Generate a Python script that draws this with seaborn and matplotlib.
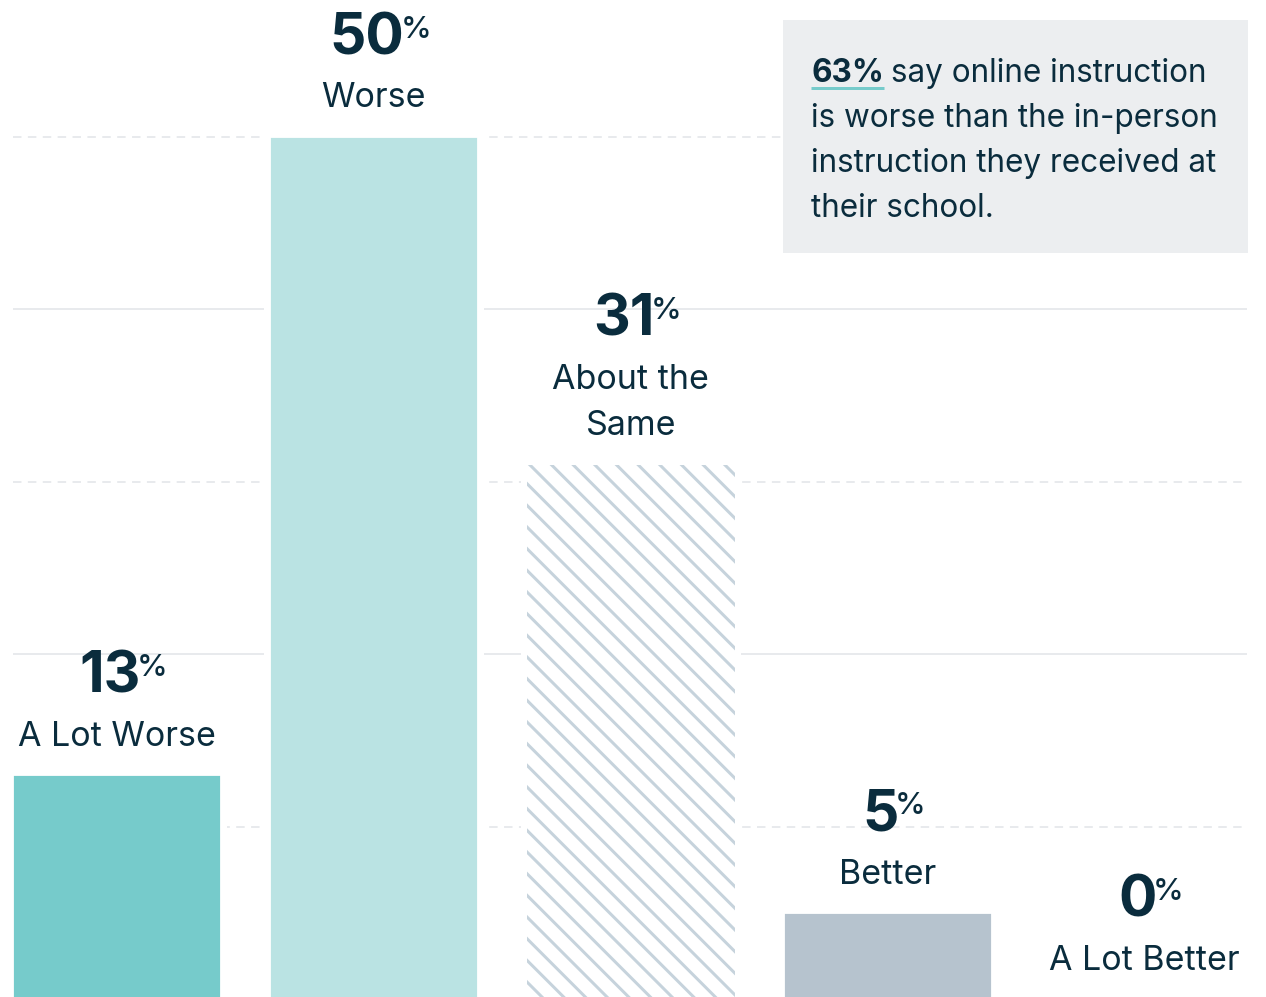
import matplotlib
matplotlib.use("Agg")
import matplotlib.pyplot as plt
import seaborn as sns
import pandas as pd
from matplotlib.patches import Rectangle
from matplotlib.lines import Line2D

# ---- data -------------------------------------------------------------
categories = ["A Lot Worse", "Worse", "About the\nSame", "Better", "A Lot Better"]
values = [13, 50, 31, 5, 0]
bar_colors = ["#76CBCB", "#BAE3E3", "#FFFFFF", "#B6C3CE", "#B6C3CE"]
grid_levels = [10, 20, 30, 40, 50]
grid_styles = ["dashed", "solid", "dashed", "solid", "dashed"]
callout_lead = "63%"
callout_rest = "say online instruction"
callout_lines = ["is worse than the in-person", "instruction they received at", "their school."]

# ---- styling ----------------------------------------------------------
W, H, DPI = 1266, 997, 130
INK = "#0A2C3D"
TEAL = "#76CBCB"
HATCH = "#C6D3DC"
GRID = "#E3E6E9"


def pt(px):
    """Convert pixels to points at the figure dpi."""
    return px * 72 / DPI


sns.set_theme(style="white")
plt.rcParams["font.family"] = ["Inter", "DejaVu Sans"]
plt.rcParams["hatch.linewidth"] = pt(3)
plt.rcParams["hatch.color"] = HATCH

fig = plt.figure(figsize=((W + 0.4) / DPI, (H + 0.4) / DPI), dpi=DPI)
fig.patch.set_facecolor("white")
ax = fig.add_axes([13 / W, 0, (1247 - 13) / W, 1])

df = pd.DataFrame({"category": categories, "value": values})
sns.barplot(data=df, x="category", y="value", hue="category",
            palette=bar_colors, width=0.81, saturation=1, legend=False,
            ax=ax, zorder=3)
bars = list(ax.patches)

# the "About the Same" bar is drawn as diagonal hatching only
mid = bars[2]
mid.set_facecolor("white")
mid.set_edgecolor(HATCH)
mid.set_linewidth(0)
mid.set_hatch("\\\\")

YMIN, YMAX = 0.145, 57.94
ax.set_xlim(-0.405, 4.401)
ax.set_ylim(YMIN, YMAX)
ax.set_xlabel("")
ax.set_ylabel("")
ax.axis("off")

# white halos so the gridlines stop short of the bars
px_per_x = (1247 - 13) / (4.401 + 0.405)
px_per_y = H / (YMAX - YMIN)
pad_x, pad_y = 6 / px_per_x, 6 / px_per_y
for b in bars:
    if b.get_height() > 0:
        ax.add_patch(Rectangle((b.get_x() - pad_x, 0), b.get_width() + 2 * pad_x,
                               b.get_height() + pad_y, facecolor="white",
                               edgecolor="none", zorder=2))

for lvl, ls in zip(grid_levels, grid_styles):
    style = (0, (5.3, 4)) if ls == "dashed" else "solid"
    ax.axhline(lvl, color=GRID, lw=pt(1.6), ls=style, zorder=1)

# value + category labels above each bar
for i, (cat, v) in enumerate(zip(categories, values)):
    lines = cat.split("\n")
    n = len(lines)
    for j, line in enumerate(lines):
        off = 30 + 46 * (n - 1 - j)
        ax.annotate(line, xy=(i, v), xytext=(0, pt(off)), textcoords="offset points",
                    ha="center", va="baseline", fontsize=pt(34), color=INK,
                    zorder=5, annotation_clip=False)
    num_off = 30 + 46 * (n - 1) + 53
    num = ax.annotate(str(v), xy=(i, v), xytext=(pt(-7), pt(num_off)),
                      textcoords="offset points", ha="center", va="baseline",
                      fontsize=pt(57), fontweight="bold", color=INK,
                      zorder=5, annotation_clip=False)
    ax.annotate("%", xy=(1, 1), xycoords=num, xytext=(pt(-3.5), pt(-3.5)),
                textcoords="offset points", ha="left", va="top",
                fontsize=pt(31), fontweight="medium", color=INK,
                zorder=5, annotation_clip=False)

# callout box
fig.add_artist(Rectangle((783 / W, 1 - 253 / H), (1248 - 783) / W, (253 - 20) / H,
                         transform=fig.transFigure, facecolor="#ECEEF0",
                         edgecolor="none", zorder=1))
x0, base0, lead = 811, 82, 45
CALLOUT_PX = 31.5
lead_txt = fig.text(x0 / W, 1 - base0 / H, callout_lead, ha="left", va="baseline",
                    fontsize=pt(CALLOUT_PX), fontweight="bold", color=INK, zorder=3)
renderer = fig.canvas.get_renderer()
bb = lead_txt.get_window_extent(renderer)
fig.text((bb.x1 + 7) / W, 1 - base0 / H, callout_rest, ha="left", va="baseline",
         fontsize=pt(CALLOUT_PX), color=INK, zorder=3)
fig.add_artist(Line2D([x0 / W, bb.x1 / W], [1 - 88.5 / H] * 2, transform=fig.transFigure,
                      color=TEAL, lw=pt(3), solid_capstyle="butt", zorder=3))
for k, line in enumerate(callout_lines, start=1):
    fig.text(x0 / W, 1 - (base0 + lead * k) / H, line, ha="left", va="baseline",
             fontsize=pt(CALLOUT_PX), color=INK, zorder=3)

fig.savefig("out.png", dpi=DPI)
